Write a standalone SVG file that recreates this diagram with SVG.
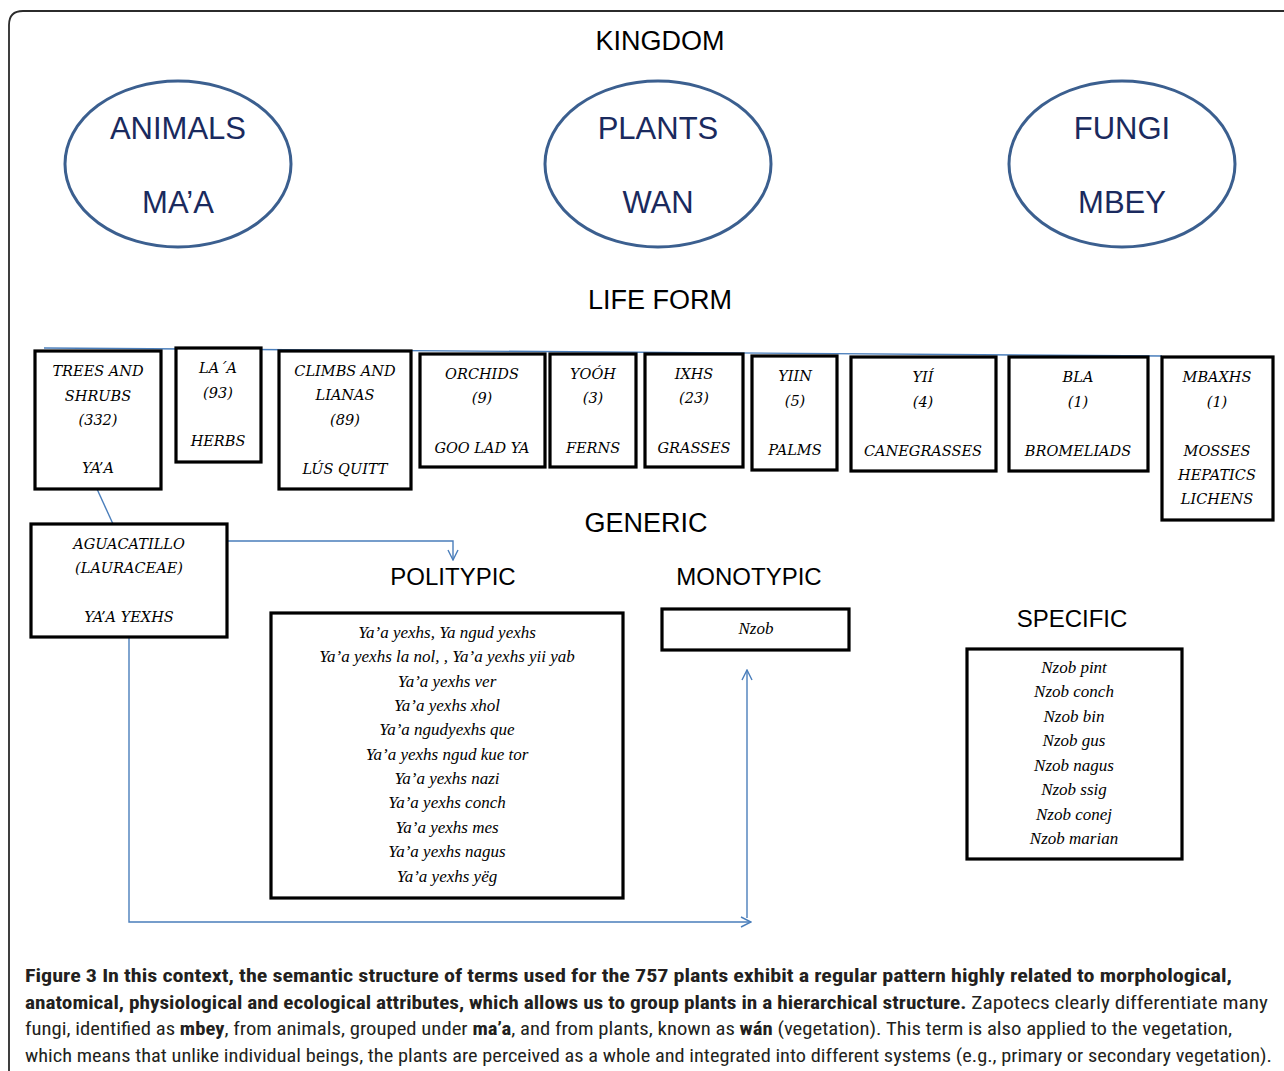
<svg xmlns="http://www.w3.org/2000/svg" width="1284" height="1071" viewBox="0 0 1284 1071">
<defs>
<style>
.frame{fill:none;stroke:#2b2b2b;stroke-width:1.8}
.head{font-family:"Liberation Sans",Arial,sans-serif;font-size:24px;fill:#000;text-anchor:middle}
.big{font-size:27px}
.ell{fill:none;stroke:#3b5f8f;stroke-width:3}
.kt{font-family:"Liberation Sans",Arial,sans-serif;font-size:31px;fill:#1a2a5e;text-anchor:middle}
.box{fill:#fff;stroke:#000;stroke-width:3.2}
.bt{font-family:"DejaVu Serif","Liberation Serif",serif;font-style:italic;font-size:14.5px;fill:#000;text-anchor:middle}
.lt{font-family:"Liberation Serif",serif;font-style:italic;font-size:17px;fill:#000;text-anchor:middle}
.conn{fill:none;stroke:#4a7ebb;stroke-width:1.4}
.cap{font-family:"Liberation Sans Narrow","Roboto Condensed","Open Sans","Noto Sans",sans-serif;font-stretch:condensed;font-size:19px;fill:#231f20}
.b{font-weight:bold}
</style>
<marker id="open" viewBox="0 0 12 12" refX="11" refY="6" markerWidth="12" markerHeight="12" markerUnits="userSpaceOnUse" orient="auto">
<path d="M1,1 L11,6 L1,11" fill="none" stroke="#4a7ebb" stroke-width="1.4"/>
</marker>
</defs>
<rect width="1284" height="1071" fill="#fff"/>
<path class="frame" d="M9,1071 L9,25 Q9,11 23,11 L1284,11"/>

<text class="head big" x="660" y="50">KINGDOM</text>
<text class="head big" x="660" y="309">LIFE FORM</text>
<text class="head big" x="646" y="532">GENERIC</text>
<text class="head" x="453" y="585">POLITYPIC</text>
<text class="head" x="749" y="585">MONOTYPIC</text>
<text class="head" x="1072" y="627">SPECIFIC</text>

<g id="connectors">
<line class="conn" x1="44" y1="348" x2="1162" y2="356"/>
<line class="conn" x1="97" y1="489" x2="113" y2="524"/>
<path class="conn" d="M227,541 L453,541 L453,560" marker-end="url(#open)"/>
<path class="conn" d="M129,638 L129,922 L751,922" marker-end="url(#open)"/>
<line class="conn" x1="747" y1="918" x2="747" y2="670" marker-end="url(#open)"/>
</g>

<g id="animals">
<ellipse class="ell" cx="178" cy="164" rx="113" ry="83"/>
<text class="kt" x="178" y="139">ANIMALS</text>
<text class="kt" x="178" y="213">MA’A</text>
</g>
<g id="plants">
<ellipse class="ell" cx="658" cy="164" rx="113" ry="83"/>
<text class="kt" x="658" y="139">PLANTS</text>
<text class="kt" x="658" y="213">WAN</text>
</g>
<g id="fungi">
<ellipse class="ell" cx="1122" cy="164" rx="113" ry="83"/>
<text class="kt" x="1122" y="139">FUNGI</text>
<text class="kt" x="1122" y="213">MBEY</text>
</g>

<g id="trees">
<rect class="box" x="35" y="351" width="126" height="138"/>
<text class="bt" x="98" y="376">TREES AND</text>
<text class="bt" x="98" y="401">SHRUBS</text>
<text class="bt" x="98" y="425">(332)</text>
<text class="bt" x="98" y="473">YA’A</text>
</g>
<g id="laa">
<rect class="box" x="176" y="348" width="85" height="114"/>
<text class="bt" x="218" y="373">LA´A</text>
<text class="bt" x="218" y="398">(93)</text>
<text class="bt" x="218" y="446">HERBS</text>
</g>
<g id="climbs">
<rect class="box" x="279" y="351" width="132" height="138"/>
<text class="bt" x="345" y="376">CLIMBS AND</text>
<text class="bt" x="345" y="400">LIANAS</text>
<text class="bt" x="345" y="425">(89)</text>
<text class="bt" x="345" y="474">LÚS QUITT</text>
</g>
<g id="orchids">
<rect class="box" x="420" y="354" width="125" height="113"/>
<text class="bt" x="482" y="379">ORCHIDS</text>
<text class="bt" x="482" y="403">(9)</text>
<text class="bt" x="482" y="453">GOO LAD YA</text>
</g>
<g id="ferns">
<rect class="box" x="550" y="354" width="86" height="113"/>
<text class="bt" x="593" y="379">YOÓH</text>
<text class="bt" x="593" y="403">(3)</text>
<text class="bt" x="593" y="453">FERNS</text>
</g>
<g id="grasses">
<rect class="box" x="645" y="354" width="98" height="113"/>
<text class="bt" x="694" y="379">IXHS</text>
<text class="bt" x="694" y="403">(23)</text>
<text class="bt" x="694" y="453">GRASSES</text>
</g>
<g id="palms">
<rect class="box" x="752" y="356" width="85" height="114"/>
<text class="bt" x="795" y="381">YIIN</text>
<text class="bt" x="795" y="406">(5)</text>
<text class="bt" x="795" y="455">PALMS</text>
</g>
<g id="canegrasses">
<rect class="box" x="851" y="357" width="145" height="114"/>
<text class="bt" x="923" y="382">YIÍ</text>
<text class="bt" x="923" y="407">(4)</text>
<text class="bt" x="923" y="456">CANEGRASSES</text>
</g>
<g id="bromeliads">
<rect class="box" x="1009" y="357" width="139" height="114"/>
<text class="bt" x="1078" y="382">BLA</text>
<text class="bt" x="1078" y="407">(1)</text>
<text class="bt" x="1078" y="456">BROMELIADS</text>
</g>
<g id="mosses">
<rect class="box" x="1162" y="357" width="111" height="163"/>
<text class="bt" x="1217" y="382">MBAXHS</text>
<text class="bt" x="1217" y="407">(1)</text>
<text class="bt" x="1217" y="456">MOSSES</text>
<text class="bt" x="1217" y="480">HEPATICS</text>
<text class="bt" x="1217" y="504">LICHENS</text>
</g>

<g id="aguacatillo">
<rect class="box" x="31" y="524" width="196" height="113"/>
<text class="bt" x="129" y="549">AGUACATILLO</text>
<text class="bt" x="129" y="573">(LAURACEAE)</text>
<text class="bt" x="129" y="622">YA’A YEXHS</text>
</g>

<g id="polytypic">
<rect class="box" x="271" y="613" width="352" height="285"/>
<text class="lt" x="447" y="638">Ya’a yexhs, Ya ngud yexhs</text>
<text class="lt" x="447" y="662">Ya’a  yexhs la nol,  , Ya’a  yexhs yii yab</text>
<text class="lt" x="447" y="687">Ya’a  yexhs ver</text>
<text class="lt" x="447" y="711">Ya’a  yexhs xhol</text>
<text class="lt" x="447" y="735">Ya’a  ngudyexhs que</text>
<text class="lt" x="447" y="760">Ya’a  yexhs ngud kue tor</text>
<text class="lt" x="447" y="784">Ya’a  yexhs nazi</text>
<text class="lt" x="447" y="808">Ya’a  yexhs conch</text>
<text class="lt" x="447" y="833">Ya’a  yexhs mes</text>
<text class="lt" x="447" y="857">Ya’a  yexhs nagus</text>
<text class="lt" x="447" y="882">Ya’a  yexhs yëg</text>
</g>

<g id="monotypic">
<rect class="box" x="662" y="609" width="187" height="41"/>
<text class="lt" x="756" y="634">Nzob</text>
</g>

<g id="specific">
<rect class="box" x="967" y="649" width="215" height="210"/>
<text class="lt" x="1074" y="673">Nzob pint</text>
<text class="lt" x="1074" y="697">Nzob conch</text>
<text class="lt" x="1074" y="722">Nzob bin</text>
<text class="lt" x="1074" y="746">Nzob gus</text>
<text class="lt" x="1074" y="771">Nzob nagus</text>
<text class="lt" x="1074" y="795">Nzob ssig</text>
<text class="lt" x="1074" y="820">Nzob conej</text>
<text class="lt" x="1074" y="844">Nzob marian</text>
</g>

<g id="caption">
<text class="cap b" x="25" y="982" textLength="1207" lengthAdjust="spacingAndGlyphs">Figure 3 In this context, the semantic structure of terms used for the 757 plants exhibit a regular pattern highly related to morphological,</text>
<text class="cap" x="25" y="1009" textLength="1243" lengthAdjust="spacingAndGlyphs"><tspan class="b">anatomical, physiological and ecological attributes, which allows us to group plants in a hierarchical structure.</tspan> Zapotecs clearly differentiate many</text>
<text class="cap" x="25" y="1035" textLength="1207" lengthAdjust="spacingAndGlyphs">fungi, identified as <tspan class="b">mbey</tspan>, from animals, grouped under <tspan class="b">ma’a</tspan>, and from plants, known as <tspan class="b">wán</tspan> (vegetation). This term is also applied to the vegetation,</text>
<text class="cap" x="25" y="1062" textLength="1247" lengthAdjust="spacingAndGlyphs">which means that unlike individual beings, the plants are perceived as a whole and integrated into different systems (e.g., primary or secondary vegetation).</text>
</g>
</svg>
